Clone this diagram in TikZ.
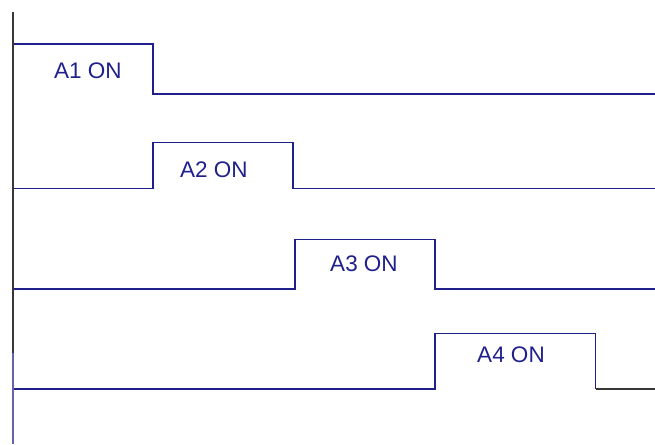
\documentclass[tikz,border=0pt]{standalone}
\usepackage{fontspec}
\setmainfont{Liberation Sans}
\usepackage{tikz}
\definecolor{wave}{RGB}{32,32,140}
\definecolor{rail}{RGB}{55,55,55}

\begin{document}
\begin{tikzpicture}[x=1pt,y=-1pt]
  \useasboundingbox (0,0) rectangle (655,444);
  \tikzset{signal/.style={line width=1.6pt, wave},
           pulse/.style={text=wave, inner sep=0pt, font=\fontsize{22.5}{26}\selectfont}}

  % left rail
  \coordinate (r0) at (13,12);
  \coordinate (r1) at (13,353);
  \coordinate (r2) at (13,444);
  % first output
  \coordinate (p1) at (13,44);
  \coordinate (p2) at (153,44);
  \coordinate (p3) at (153,94);
  \coordinate (p4) at (655,94);
  % second output
  \coordinate (q1) at (13,188.5);
  \coordinate (q2) at (153,188.5);
  \coordinate (q3) at (153,142.5);
  \coordinate (q4) at (293,142.5);
  \coordinate (q5) at (293,188.5);
  \coordinate (q6) at (655,188.5);
  % third output
  \coordinate (s1) at (13,289);
  \coordinate (s2) at (295,289);
  \coordinate (s3) at (295,239.5);
  \coordinate (s4) at (435,239.5);
  \coordinate (s5) at (435,289);
  \coordinate (s6) at (655,289);
  % fourth output
  \coordinate (t1) at (13,389);
  \coordinate (t2) at (435,389);
  \coordinate (t3) at (435,333.5);
  \coordinate (t4) at (595.5,333.5);
  \coordinate (t5) at (595.5,389);
  \coordinate (t6) at (655,389);

  \draw[signal] (p1) -- (p2) -- (p3) -- (p4);
  \draw[signal] (q1) -- (q2) -- (q3) -- (q4) -- (q5) -- (q6);
  \draw[signal] (s1) -- (s2) -- (s3) -- (s4) -- (s5) -- (s6);
  \draw[signal] (t1) -- (t2) -- (t3) -- (t4) -- (t5);
  \draw[line width=1.6pt, rail] (t5) -- (t6);

  \draw[line width=2pt, rail] (r0) -- (r1);
  \draw[line width=2pt, wave!70] (r1) -- (r2);

  % labels of the on phases
  \node[pulse] (a1) at (88,71) {A1 ON};
  \node[pulse] (a2) at (214,169.5) {A2 ON};
  \node[pulse] (a3) at (364,263.5) {A3 ON};
  \node[pulse] (a4) at (511,355) {A4 ON};
\end{tikzpicture}
\end{document}
